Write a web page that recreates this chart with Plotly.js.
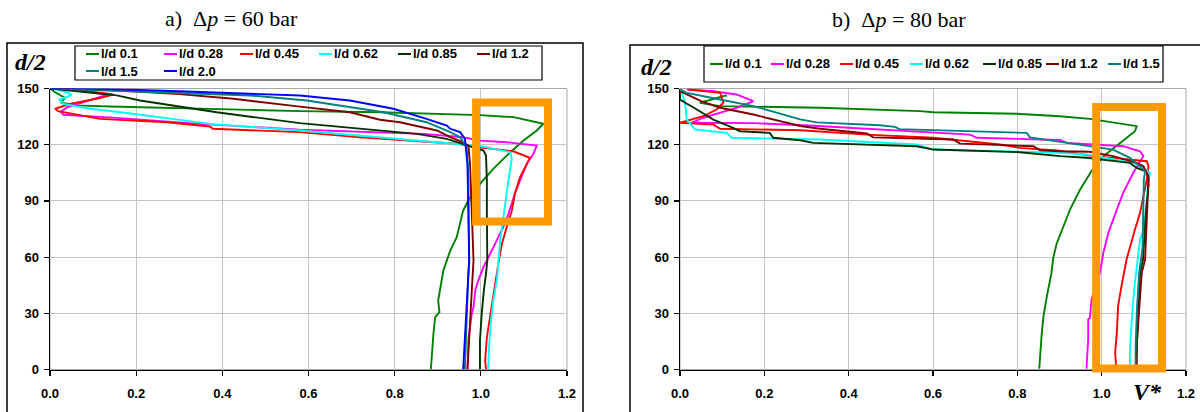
<!DOCTYPE html>
<html><head><meta charset="utf-8">
<script src="https://cdn.plot.ly/plotly-3.0.1.min.js"></script>
<style>html,body{margin:0;padding:0;background:#fff}#chart{width:1200px;height:412px}</style>
</head><body><div id="chart"></div>
<script>
// ---------- series (names, colours) ----------
const namesA = ['l/d 0.1','l/d 0.28','l/d 0.45','l/d 0.62','l/d 0.85','l/d 1.2','l/d 1.5','l/d 2.0'];
const namesB = ['l/d 0.1','l/d 0.28','l/d 0.45','l/d 0.62','l/d 0.85','l/d 1.2','l/d 1.5'];
const colors = ['#008000','#FF00FF','#FF0000','#00FFFF','#003300','#800000','#008080','#0000FF'];

// ---------- panel a) dp = 60 bar : V* (x) vs d/2 (y) ----------
const a01x = [0,0.012,0.035,0.025,0.06,0.139,0.464,0.580,0.766,0.998,1.076,1.145,1.130,1.099,1.060,1.029,0.998,0.971,0.959,0.952,0.944,0.929,0.921,0.913,0.909,0.901,0.904,0.894,0.890,0.886,0.884];
const a01y = [150,148,145,142.5,141,140.4,138.6,137.9,137.3,135.8,134.7,131.2,127.6,122.2,114.2,107.1,99.1,90.2,84.9,77.8,70.6,63.5,58.2,52.8,47.5,36.8,30.6,27.9,19.1,6.6,0];
const a028x = [0.03,0.09,0.13,0.09,0.04,0.025,0.031,0.155,0.348,0.580,0.766,0.867,0.959,0.998,1.060,1.130,1.122,1.107,1.091,1.079,1.064,1.052,1.037,1.025,1.014,1.006,0.994,0.987,0.983,0.979,0.975,0.971,0.969];
const a028y = [150,148.5,146.5,143.5,140,137.5,136.0,134.3,131.1,128.0,126.7,125.8,124.0,122.2,121.3,119.6,115.1,109.8,100.9,93.8,83.1,76.0,68.9,63.5,58.2,54.6,47.5,42.2,33.3,29.7,22.6,15.5,0];
const a045x = [0.02,0.08,0.147,0.108,0.046,0.012,0.019,0.116,0.271,0.371,0.378,0.580,0.720,0.882,0.944,1.000,1.075,1.114,1.107,1.091,1.079,1.072,1.060,1.050,1.043,1.033,1.021,1.014,1.010,1.012];
const a045y = [150,148.8,146.8,144.5,141.8,139.2,137.9,133.8,132.0,129.7,128.5,126.7,124.0,121.7,120.5,118.5,116.5,113.0,109.8,102.7,93.8,84.9,76.0,68.0,60.0,45.7,27.9,17.2,4.8,0];
const a062x = [0.004,0.039,0.05,0.022,0.031,0.093,0.193,0.371,0.580,0.712,0.766,0.882,0.959,0.998,1.068,1.072,1.064,1.058,1.052,1.045,1.041,1.037,1.029,1.023,1.019,1.017];
const a062y = [150.4,148.0,146.5,144.0,141.8,139.2,136.5,131.1,127.6,124.9,124.0,121.3,119.8,119.3,116.0,112.5,100.9,90.2,79.5,68.9,58.2,47.5,36.8,24.4,11.9,0];
const a085x = [0,0.155,0.209,0.387,0.580,0.681,0.766,0.851,0.921,0.959,1.006,1.012,1.014,1.014,1.015,1.012,1.007,1.002,0.998,0.998];
const a085y = [150,146.3,143.6,137.3,131.5,129.3,127.6,125.8,123.1,120.5,116.9,114.2,100.9,83.1,58.2,51.1,42.2,29.7,15.5,0];
const a12x = [0,0.15,0.3,0.426,0.58,0.696,0.766,0.812,0.898,0.929,0.959,0.971,0.975,0.979,0.983,0.979,0.973,0.969];
const a12y = [150,149,147,144.5,140.3,137.3,133.3,132.0,127.6,124.0,121.3,119.6,109.8,83.1,58.2,42.2,15.5,0];
const a15x = [0,0.2,0.464,0.596,0.774,0.874,0.929,0.952,0.967,0.971,0.973,0.971,0.966,0.963];
const a15y = [150,148.5,146.3,143.6,137.3,132.0,126.7,124.0,118.7,103.6,58.2,51.1,15.5,0];
const a20x = [0,0.054,0.3,0.464,0.580,0.696,0.766,0.797,0.874,0.921,0.929,0.952,0.963,0.969,0.971,0.973,0.969,0.963,0.959];
const a20y = [150,150.3,148.5,147.2,146.3,143.6,140.4,139.2,133.8,130.2,128.5,126.7,123.1,109.8,83.1,58.2,42.2,15.5,0];

// ---------- panel b) dp = 80 bar ----------
const b01x = [0.111,0.047,0.095,0.285,0.332,0.569,0.601,0.798,0.901,0.972,1.067,1.083,1.079,1.043,1.004,0.976,0.949,0.925,0.909,0.893,0.885,0.881,0.870,0.862,0.858,0.852];
const b01y = [146.4,142.4,140.6,139.7,139.7,137.9,137.3,136.5,135.2,133.8,130.8,129.9,127.2,121.0,113.9,105.9,96.1,85.4,76.0,67.0,59.5,51.6,39.1,28.5,19.6,0.4];
const b028x = [0.016,0.08,0.134,0.174,0.134,0.055,0.028,0.174,0.285,0.474,0.688,0.704,0.806,0.901,0.917,0.988,1.051,1.091,1.099,1.075,1.051,1.036,1.016,1.004,1.000,0.996,0.976,0.972,0.968,0.968,0.964];
const b028y = [149.5,148.5,146.8,143.2,139.7,134.4,131.7,131.5,130.5,128.2,125.4,123.7,123.0,122.5,121.0,120.1,119.2,116.5,113.9,105.0,94.3,85.4,73.0,62.3,57.0,51.6,37.4,27.6,26.7,16.0,0.4];
const b045x = [0.020,0.095,0.103,0.087,0.055,0.016,0,0.079,0.095,0.285,0.443,0.601,0.759,0.806,0.901,0.980,1.043,1.107,1.111,1.107,1.099,1.091,1.079,1.067,1.059,1.047,1.039,1.036,1.032,1.034,1.032];
const b045y = [149.5,147.7,142.4,138.8,135.2,132.5,131.7,130.8,128.5,127.7,125.4,123.7,120.1,118.3,116.8,113.9,112.4,111.2,108.5,101.4,92.5,83.6,74.7,65.8,58.7,44.5,33.8,19.6,8.9,2.7,0.4];
const b062x = [0.002,0.012,0.016,0.036,0.111,0.123,0.332,0.561,0.601,0.759,0.901,0.964,1.075,1.103,1.115,1.111,1.107,1.100,1.091,1.086,1.077,1.071,1.067,1.067];
const b062y = [149.5,142.4,133.4,128.1,126.3,123.7,122.8,120.1,117.4,116.5,115.7,114.8,110.3,106.8,105.0,101.4,90.0,75.0,69.4,58.7,42.7,24.9,10.7,0.4];
const b085x = [0,0,0.040,0.079,0.126,0.142,0.213,0.221,0.285,0.316,0.561,0.601,0.806,0.901,0.964,1.067,1.083,1.103,1.111,1.111,1.105,1.101,1.098,1.091,1.087,1.083,1.081];
const b085y = [149.5,144.1,138.8,133.4,129.0,127.2,126.3,123.7,122.4,121.0,119.2,117.4,116.0,113.9,113.0,110.3,107.6,105.9,103.2,97.9,83.6,69.4,58.7,51.6,33.8,16.0,0.4];
const b12x = [0,0.016,0.05,0.095,0.174,0.285,0.332,0.443,0.458,0.648,0.664,0.838,0.854,0.901,0.972,1.027,1.083,1.099,1.107,1.111,1.108,1.105,1.103,1.095,1.089,1.084,1.083];
const b12y = [148.6,146.8,143.3,139.7,136.1,130.0,128.5,126.0,123.9,122.8,120.6,119.2,117.0,116.5,116.2,113.9,110.3,108.5,105.0,101.4,83.6,69.4,58.7,51.6,33.8,16.0,0.4];
const b15x = [0,0.016,0.095,0.174,0.285,0.324,0.474,0.51,0.52,0.798,0.822,0.830,0.917,1.027,1.067,1.091,1.103,1.100,1.099,1.097,1.089,1.084,1.081,1.080];
const b15y = [149.5,147.7,144.1,140.6,133.5,131.9,130.4,129.5,128.3,126.5,126.3,123.9,121.2,117.4,113.0,108.5,105.9,101.4,80.0,65.0,51.6,33.8,16.0,0.4];

// ---------- axis ticks ----------
const xTicks = [0,0.2,0.4,0.6,0.8,1.0,1.2];
const xTickText = ['0.0','0.2','0.4','0.6','0.8','1.0','1.2'];
const yTicks = [0,30,60,90,120,150];

const seriesA = [[a01x,a01y],[a028x,a028y],[a045x,a045y],[a062x,a062y],[a085x,a085y],[a12x,a12y],[a15x,a15y],[a20x,a20y]];
const seriesB = [[b01x,b01y],[b028x,b028y],[b045x,b045y],[b062x,b062y],[b085x,b085y],[b12x,b12y],[b15x,b15y]];

const W = 1200, H = 412;
const px = v => v / W;
const py = v => 1 - v / H;

const traces = [];
seriesA.forEach((s, i) => traces.push({x: s[0], y: s[1], xaxis: 'x', yaxis: 'y', mode: 'lines', name: namesA[i],
  line: {color: colors[i], width: 1.9}, hoverinfo: 'skip'}));
seriesB.forEach((s, i) => traces.push({x: s[0], y: s[1], xaxis: 'x2', yaxis: 'y2', mode: 'lines', name: namesB[i],
  line: {color: colors[i], width: 1.9}, hoverinfo: 'skip'}));

const tickFont = {family: 'Liberation Sans, Arial, sans-serif', size: 13, color: '#000', weight: 'bold'};
function xax(dom, anchor) {
  return {domain: dom, anchor: anchor, range: [0, 1.2], tickvals: xTicks, ticktext: xTickText,
    showgrid: true, gridcolor: '#c4c4c4', gridwidth: 1, zeroline: false,
    showline: true, linecolor: '#000', linewidth: 1.5, ticks: 'outside', ticklen: 5, tickcolor: '#000', tickwidth: 1.2,
    tickfont: tickFont, ticklabelstandoff: 6, fixedrange: true};
}
function yax(dom, anchor) {
  return {domain: dom, anchor: anchor, range: [0, 150], tickvals: yTicks,
    showgrid: true, gridcolor: '#c4c4c4', gridwidth: 1, zeroline: false,
    showline: true, linecolor: '#000', linewidth: 1.5, ticks: 'outside', ticklen: 5, tickcolor: '#000', tickwidth: 1.2,
    tickfont: tickFont, ticklabelstandoff: 2, fixedrange: true};
}
const yDom = [py(369.5), py(88.5)];

const shapes = [];
const annotations = [];
// outer chart frames
shapes.push({type: 'path', xref: 'paper', yref: 'paper',
  path: `M ${px(7)},-0.1 L ${px(7)},${py(43)} L ${px(583)},${py(43)} L ${px(583)},-0.1`,
  line: {color: '#000', width: 1.5}});
shapes.push({type: 'path', xref: 'paper', yref: 'paper',
  path: `M ${px(630)},-0.1 L ${px(630)},${py(45)} L 1.1,${py(45)}`,
  line: {color: '#000', width: 1.5}});
// grey plot area borders
['', '2'].forEach(k => shapes.push({type: 'rect', xref: 'x' + k + ' domain', yref: 'y' + k + ' domain',
  x0: 0, x1: 1, y0: 0, y1: 1, line: {color: '#a8a8a8', width: 1}, layer: 'below'}));
// legend boxes
shapes.push({type: 'rect', xref: 'paper', yref: 'paper', x0: px(75), x1: px(542), y0: py(80), y1: py(46),
  line: {color: '#000', width: 1.2}, fillcolor: '#fff'});
shapes.push({type: 'rect', xref: 'paper', yref: 'paper', x0: px(704), x1: px(1163), y0: py(82), y1: py(46),
  line: {color: '#000', width: 1.2}, fillcolor: '#fff'});
// legend entries
const legA = [[86,54],[164,54],[240,54],[319,54],[398,54],[477,54],[86,71],[164,71]];
const legB = [[710,64],[771,64],[840,64],[910,64],[983,64],[1046,64],[1108,64]];
const legFont = {family: 'Liberation Sans Narrow, Arial Narrow, Liberation Sans, sans-serif', size: 13, color: '#000', weight: 'bold'};
function addLegend(names, pos) {
  names.forEach((n, i) => {
    const [lx, ly] = pos[i];
    shapes.push({type: 'line', xref: 'paper', yref: 'paper', x0: px(lx), x1: px(lx + 13), y0: py(ly), y1: py(ly),
      line: {color: colors[i], width: 2}});
    annotations.push({xref: 'paper', yref: 'paper', x: px(lx + 13), y: py(ly), xanchor: 'left', yanchor: 'middle',
      text: n, showarrow: false, font: legFont});
  });
}
addLegend(namesA, legA);
addLegend(namesB, legB);
// orange highlight rectangles
shapes.push({type: 'rect', xref: 'x', yref: 'y', x0: 0.989, x1: 1.156, y0: 79, y1: 142.5,
  line: {color: '#FF9900', width: 8}});
shapes.push({type: 'rect', xref: 'x2', yref: 'paper', x0: 0.987, x1: 1.143, y0: py(368.5), y1: py(107),
  line: {color: '#FF9900', width: 8}});

// titles and axis labels
const serif = 'Liberation Serif, Times New Roman, serif';
annotations.push({xref: 'paper', yref: 'paper', x: px(231), y: py(19), xanchor: 'center', yanchor: 'middle',
  text: 'a)&nbsp;&nbsp;Δ<i>p</i> = 60 bar', showarrow: false, font: {family: serif, size: 22, color: '#000'}});
annotations.push({xref: 'paper', yref: 'paper', x: px(899), y: py(20), xanchor: 'center', yanchor: 'middle',
  text: 'b)&nbsp;&nbsp;Δ<i>p</i> = 80 bar', showarrow: false, font: {family: serif, size: 22, color: '#000'}});
annotations.push({xref: 'paper', yref: 'paper', x: px(30), y: py(62), xanchor: 'center', yanchor: 'middle',
  text: '<b><i>d/2</i></b>', showarrow: false, font: {family: serif, size: 24, color: '#000'}});
annotations.push({xref: 'paper', yref: 'paper', x: px(656), y: py(67), xanchor: 'center', yanchor: 'middle',
  text: '<b><i>d/2</i></b>', showarrow: false, font: {family: serif, size: 24, color: '#000'}});
annotations.push({xref: 'paper', yref: 'paper', x: px(1147), y: py(392), xanchor: 'center', yanchor: 'middle',
  text: '<b><i>V*</i></b>', showarrow: false, font: {family: serif, size: 24, color: '#000'}});

const layout = {
  width: W, height: H, margin: {l: 0, r: 0, t: 0, b: 0}, paper_bgcolor: '#fff', plot_bgcolor: '#fff',
  showlegend: false,
  xaxis: xax([px(50), px(567)], 'y'), yaxis: yax(yDom, 'x'),
  xaxis2: xax([px(680), px(1186)], 'y2'), yaxis2: yax(yDom, 'x2'),
  shapes: shapes, annotations: annotations
};
Plotly.newPlot('chart', traces, layout, {staticPlot: true, displayModeBar: false});
</script></body></html>
